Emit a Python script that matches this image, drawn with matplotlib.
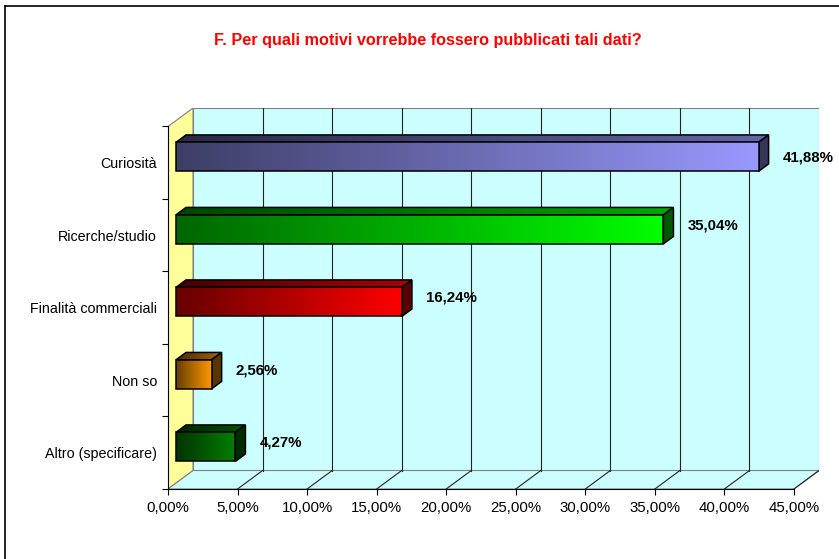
import numpy as np
import matplotlib
matplotlib.use('Agg')
import matplotlib.pyplot as plt
from matplotlib.patches import Polygon
from matplotlib.lines import Line2D
from matplotlib.colors import to_rgb

# data
categories = ['Curiosità', 'Ricerche/studio', 'Finalità commerciali', 'Non so', 'Altro (specificare)']
values = [41.88, 35.04, 16.24, 2.56, 4.27]
value_labels = ['41,88%', '35,04%', '16,24%', '2,56%', '4,27%']
bar_colors = ['#9999FF', '#00FF00', '#FF0000', '#FF9900', '#008000']
xticks = [0, 5, 10, 15, 20, 25, 30, 35, 40, 45]
xtick_labels = ['0,00%', '5,00%', '10,00%', '15,00%', '20,00%', '25,00%',
                '30,00%', '35,00%', '40,00%', '45,00%']
title = 'F. Per quali motivi vorrebbe fossero pubblicati tali dati?'

plt.rcParams['font.family'] = ['Liberation Sans', 'DejaVu Sans']

XMAX = 45
NCAT = len(categories)
DX, DY = 1.8, 0.255          # shift of the back wall in data units
Z0, Z1 = 0.32, 0.72          # bar depth range
HALF = 0.2                   # half bar thickness


def P(x, y, z):
    return (x + z * DX, y + z * DY)


fig = plt.figure(figsize=(8.39, 5.59), dpi=100)
ax = fig.add_axes([168 / 839, (559 - 489) / 559, (819 - 168) / 839, (489 - 108) / 559])

# walls
wall_edge = '#808080'
left_wall = Polygon([P(0, 0, 0), P(0, 0, 1), P(0, NCAT, 1), P(0, NCAT, 0)],
                    closed=True, facecolor='#FFFF99', edgecolor=wall_edge, lw=0.8, zorder=1)
back_wall = Polygon([P(0, 0, 1), P(XMAX, 0, 1), P(XMAX, NCAT, 1), P(0, NCAT, 1)],
                    closed=True, facecolor='#CCFFFF', edgecolor=wall_edge, lw=0.8, zorder=1)
floor = Polygon([P(0, 0, 0), P(XMAX, 0, 0), P(XMAX, 0, 1), P(0, 0, 1)],
                closed=True, facecolor='#CCFFFF', edgecolor=wall_edge, lw=0.8, zorder=1)
for p in (left_wall, back_wall, floor):
    ax.add_patch(p)

# grid lines on back wall and floor
for t in xticks[1:-1]:
    x0, y0 = P(t, 0, 1)
    x1, y1 = P(t, NCAT, 1)
    ax.plot([x0, x1], [y0, y1], color='#222222', lw=0.8, zorder=2)
for t in xticks[1:]:
    x0, y0 = P(t, 0, 0)
    x1, y1 = P(t, 0, 1)
    ax.plot([x0, x1], [y0, y1], color='#222222', lw=0.8, zorder=2)


def gradient_face(verts, rgb, lo, hi, zorder):
    poly = Polygon(verts, closed=True, facecolor='none', edgecolor='black',
                   lw=1.1, zorder=zorder + 0.5, joinstyle='miter')
    ax.add_patch(poly)
    xs = [v[0] for v in verts]
    ys = [v[1] for v in verts]
    grad = np.linspace(lo, hi, 256)
    img = grad[None, :, None] * np.array(rgb)[None, None, :]
    im = ax.imshow(img, extent=[min(xs), max(xs), min(ys), max(ys)],
                   aspect='auto', interpolation='bilinear', zorder=zorder)
    im.set_clip_path(poly)


# bars
for i, (v, col) in enumerate(zip(values, bar_colors)):
    c = NCAT - 1 - i + 0.5
    rgb = np.array(to_rgb(col))
    yb, yt = c - HALF, c + HALF
    top = [P(0, yt, Z0), P(v, yt, Z0), P(v, yt, Z1), P(0, yt, Z1)]
    side = [P(v, yb, Z0), P(v, yb, Z1), P(v, yt, Z1), P(v, yt, Z0)]
    front = [P(0, yb, Z0), P(v, yb, Z0), P(v, yt, Z0), P(0, yt, Z0)]
    gradient_face(top, rgb, 0.27, 0.66, 3)
    ax.add_patch(Polygon(side, closed=True, facecolor=rgb * 0.35, edgecolor='black',
                         lw=1.1, zorder=3.5, joinstyle='miter'))
    gradient_face(front, rgb, 0.4, 1.0, 4)
    ly = c + 0.14 if i > 0 else c + 0.07
    ax.text(v + 2.3, ly, value_labels[i], fontsize=10.8, fontweight='bold',
            ha='left', va='center', color='black', zorder=6)

ax.set_xlim(0, XMAX + DX)
ax.set_ylim(0, NCAT + DY)

for s in ('top', 'right'):
    ax.spines[s].set_visible(False)
ax.spines['bottom'].set_bounds(0, XMAX)
ax.spines['left'].set_bounds(0, NCAT)
for s in ('bottom', 'left'):
    ax.spines[s].set_color('black')
    ax.spines[s].set_linewidth(0.8)
    ax.spines[s].set_zorder(5)

ax.set_xticks(xticks)
ax.set_xticklabels(xtick_labels)
ax.set_yticks(range(NCAT + 1))
ax.set_yticklabels([])
ax.set_yticks([NCAT - 1 - i + 0.5 for i in range(NCAT)], minor=True)
ax.set_yticklabels(categories, minor=True)
ax.tick_params(axis='x', direction='out', length=4, width=0.8, pad=5, labelsize=10.8)
ax.tick_params(axis='y', which='major', direction='out', length=4, width=0.8)
ax.tick_params(axis='y', which='minor', length=0, pad=8, labelsize=10.3)

fig.text(427.5 / 839, 1 - 40 / 559, title, color='#FF0000', fontsize=11.7,
         fontweight='bold', ha='center', va='center')

# outer frame (left and top edges visible)
fig.add_artist(Line2D([5 / 839, 5 / 839], [0, 1 - 6 / 559], color='black', lw=1.2,
                      transform=fig.transFigure))
fig.add_artist(Line2D([5 / 839, 1], [1 - 6 / 559, 1 - 6 / 559], color='black', lw=1.2,
                      transform=fig.transFigure))

fig.savefig('out.png', dpi=100)
